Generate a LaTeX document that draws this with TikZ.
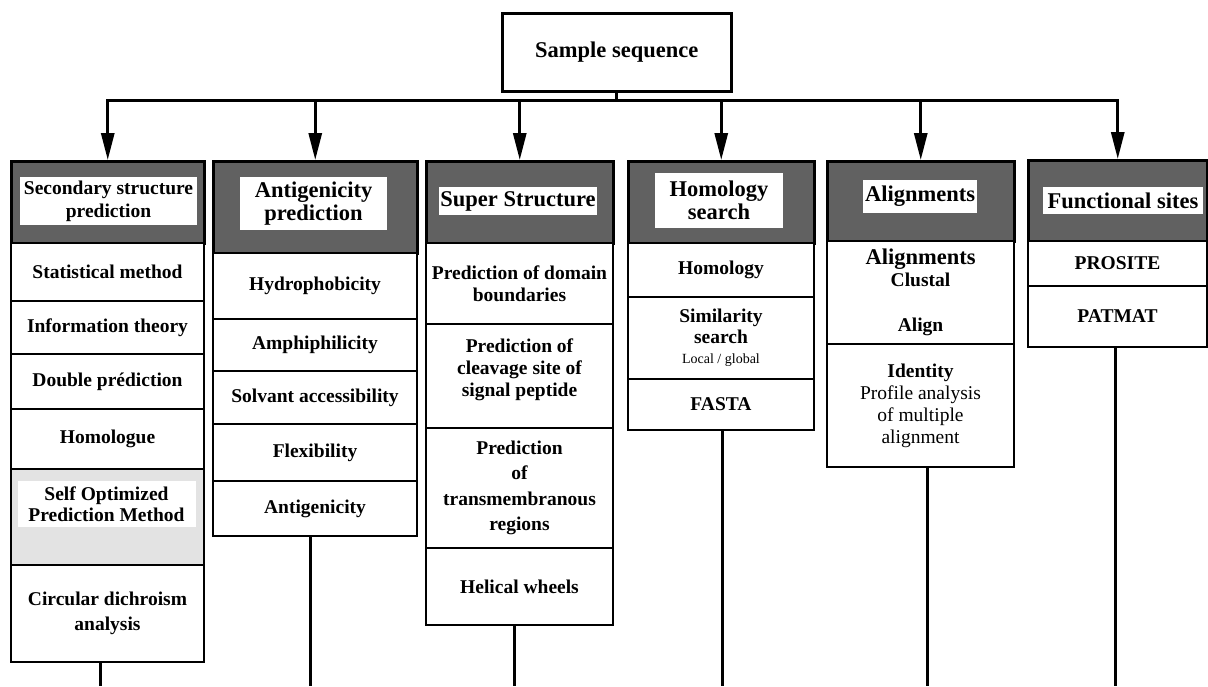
\documentclass[tikz,border=0pt]{standalone}
\usepackage{fontspec}
\setmainfont{Liberation Serif}
\usetikzlibrary{arrows.meta}
\newcommand\bodyfont{\fontsize{19.5}{22}\selectfont\bfseries}
\newcommand\bodyloose{\fontsize{19.5}{25.5}\selectfont\bfseries}
\newcommand\headfont{\fontsize{22.5}{23}\selectfont\bfseries}
\newcommand\regfont{\fontsize{19.5}{22}\selectfont\mdseries}
\newcommand\smallreg{\fontsize{14}{16}\selectfont\mdseries}
\begin{document}
\begin{tikzpicture}[x=1pt,y=-1pt,
  cell/.style={draw, line width=2pt, fill=white, anchor=north west, align=center, inner sep=0pt, font=\bodyfont},
  head/.style={draw, line width=2.5pt, fill=black!62, anchor=north west, inner sep=0pt},
  hlab/.style={fill=white, align=center, inner sep=0pt, font=\headfont},
  conn/.style={line width=3pt},
  arr/.style={conn, -{Triangle[length=27pt,width=13pt]}},
]
\useasboundingbox (0,0) rectangle (1208,686);

% top box
\node[draw, line width=2.5pt, minimum width=229pt, minimum height=78pt, anchor=north west,
      font=\fontsize{22.5}{24}\selectfont\bfseries, inner sep=0pt] (ss) at (501,12) {Sample sequence};

% column 1
\node[head, minimum width=193pt, minimum height=82pt] (h1) at (10,160) {};
\node[hlab, font=\fontsize{19.5}{23}\selectfont\bfseries, minimum width=177pt, minimum height=48pt] (l1) at (108.5,201) {Secondary structure\\prediction};
\node[cell, minimum width=193pt, minimum height=58pt] (c1a) at (10,242) {Statistical method};
\node[cell, minimum width=193pt, minimum height=53pt] (c1b) at (10,300) {Information theory};
\node[cell, minimum width=193pt, minimum height=55pt] (c1c) at (10,353) {Double prédiction};
\node[cell, minimum width=193pt, minimum height=60pt] (c1d) at (10,408) {Homologue};
\node[cell, fill=black!11, minimum width=193pt, minimum height=96pt] (c1e) at (10,468) {};
\node[hlab, font=\fontsize{19.5}{21}\selectfont\bfseries, minimum width=178pt, minimum height=46pt] (s1) at (106.5,504) {Self Optimized\\Prediction Method};
\node[cell, font=\bodyloose, minimum width=193pt, minimum height=97pt] (c1f) at (10,564) {Circular dichroism\\analysis};

% column 2
\node[head, minimum width=204pt, minimum height=92pt] (h2) at (212,160) {};
\node[hlab, minimum width=147pt, minimum height=53pt] (l2) at (313.5,203.5) {Antigenicity\\prediction};
\node[cell, minimum width=204pt, minimum height=66pt] (c2a) at (212,252) {Hydrophobicity};
\node[cell, minimum width=204pt, minimum height=52pt] (c2b) at (212,318) {Amphiphilicity};
\node[cell, minimum width=204pt, minimum height=53pt] (c2c) at (212,370) {Solvant accessibility};
\node[cell, minimum width=204pt, minimum height=57pt] (c2d) at (212,423) {Flexibility};
\node[cell, minimum width=204pt, minimum height=55pt] (c2e) at (212,480) {Antigenicity};

% column 3
\node[head, minimum width=187pt, minimum height=82pt] (h3) at (425,160) {};
\node[hlab, minimum width=158pt, minimum height=28pt] (l3) at (518,201) {Super Structure};
\node[cell, minimum width=187pt, minimum height=81pt] (c3a) at (425,242) {Prediction of domain\\boundaries};
\node[cell, minimum width=187pt, minimum height=104pt] (c3b) at (425,323) {Prediction of\\cleavage site of\\signal peptide\\[-6pt]\mbox{}};
\node[cell, font=\bodyloose, minimum width=187pt, minimum height=120pt] (c3c) at (425,427) {Prediction\\of\\transmembranous\\regions};
\node[cell, minimum width=187pt, minimum height=77pt] (c3d) at (425,547) {Helical wheels};

% column 4
\node[head, minimum width=186pt, minimum height=82pt] (h4) at (627,160) {};
\node[hlab, minimum width=128pt, minimum height=55pt] (l4) at (719,200.5) {Homology\\search};
\node[cell, minimum width=186pt, minimum height=54pt] (c4a) at (627,242) {Homology};
\node[cell, font=\fontsize{19.5}{20.5}\selectfont\bfseries, minimum width=186pt, minimum height=82pt] (c4b) at (627,296) {Similarity\\search\\{\smallreg Local / global}};
\node[cell, minimum width=186pt, minimum height=51pt] (c4c) at (627,378) {FASTA};

% column 5
\node[head, minimum width=187pt, minimum height=80pt] (h5) at (826,160) {};
\node[hlab, minimum width=114pt, minimum height=33pt] (l5) at (920,196.5) {Alignments};
\node[cell, minimum width=187pt, minimum height=103pt] (c5a) at (826,240) {{\headfont Alignments}\\Clustal\\[23pt]Align};
\node[cell, minimum width=187pt, minimum height=123pt] (c5b) at (826,343) {Identity\\{\regfont Profile analysis}\\{\regfont of multiple}\\{\regfont alignment}};

% column 6
\node[head, minimum width=179pt, minimum height=81pt] (h6) at (1027,159) {};
\node[hlab, minimum width=160pt, minimum height=27pt] (l6) at (1123,200.5) {Functional sites};
\node[cell, minimum width=179pt, minimum height=45pt] (c6a) at (1027,240) {PROSITE};
\node[cell, minimum width=179pt, minimum height=61pt] (c6b) at (1027,285) {PATMAT};

% connectors from the top box
\coordinate (bar) at (0,100);
\draw[conn] (ss.south) -- (ss.south |- bar);
\draw[arr] (ss.south |- bar) -| (h1.north);
\draw[arr] (ss.south |- bar) -| (h6.north);
\foreach \h in {h2,h3,h4,h5} \draw[arr] (\h.north |- bar) -- (\h.north);

% lines leaving the columns
\coordinate (b1) at (100,686);
\coordinate (b2) at (310,686);
\coordinate (b3) at (514,686);
\coordinate (b4) at (722,686);
\coordinate (b5) at (927,686);
\coordinate (b6) at (1115,686);
\draw[conn] (b1 |- c1f.south) -- (b1);
\draw[conn] (b2 |- c2e.south) -- (b2);
\draw[conn] (b3 |- c3d.south) -- (b3);
\draw[conn] (b4 |- c4c.south) -- (b4);
\draw[conn] (b5 |- c5b.south) -- (b5);
\draw[conn] (b6 |- c6b.south) -- (b6);
\end{tikzpicture}
\end{document}
